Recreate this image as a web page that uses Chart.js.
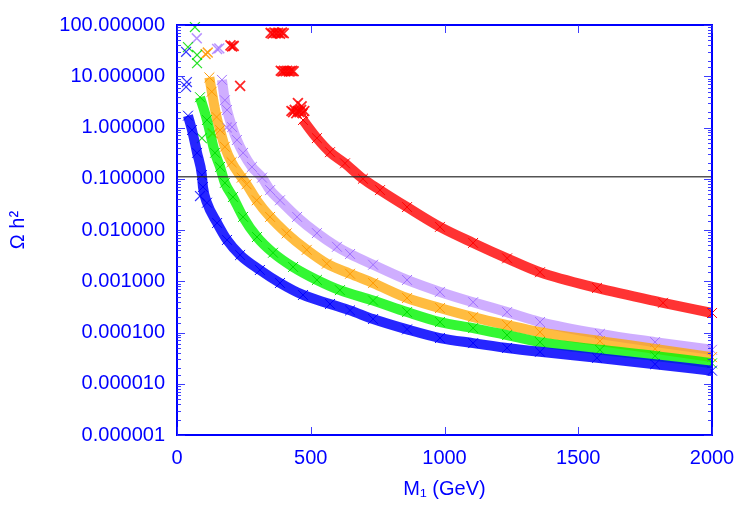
<!DOCTYPE html>
<html>
<head>
<meta charset="utf-8">
<script src="https://cdn.jsdelivr.net/npm/chart.js@4.4.1/dist/chart.umd.min.js"></script>
<style>
  html, body { margin: 0; padding: 0; background: #ffffff; }
  #wrap { width: 750px; height: 525px; }
</style>
</head>
<body>
<div id="wrap"><canvas id="relicChart" width="750" height="525"></canvas></div>
<script>
// M1 (GeV) and Omega h^2, one band per colour
const blueX = [41, 56, 75, 93, 97, 112, 150, 187, 236, 310, 385, 471, 572, 647, 733, 860, 983, 1107, 1234, 1357, 1570, 1787, 2000];
const blueY = [1.7, 0.89, 0.32, 0.118, 0.069, 0.034, 0.0137, 0.0064, 0.00325, 0.00166, 0.000925, 0.00054, 0.00036, 0.00027, 0.000183, 0.000115, 7.8e-5, 6.2e-5, 5.0e-5, 4.2e-5, 3.2e-5, 2.4e-5, 1.8e-5];

const greenX = [86, 112, 142, 161, 179, 209, 247, 299, 359, 434, 523, 609, 733, 860, 983, 1107, 1234, 1357, 1581, 1787, 2000];
const greenY = [3.9, 1.4, 0.32, 0.17, 0.083, 0.044, 0.018, 0.0073, 0.0036, 0.0019, 0.00106, 0.00067, 0.00042, 0.00025, 0.00016, 0.000122, 8.9e-5, 6.5e-5, 4.6e-5, 3.5e-5, 2.5e-5];

const orangeX = [121, 130, 148, 161, 179, 204, 242, 260, 298, 348, 410, 485, 560, 647, 733, 860, 983, 1107, 1234, 1357, 1581, 1787, 2000];
const orangeY = [9.5, 5.0, 1.6, 0.89, 0.42, 0.21, 0.105, 0.078, 0.038, 0.018, 0.0086, 0.0041, 0.0022, 0.0014, 0.00092, 0.00047, 0.0003, 0.0002, 0.00014, 0.000102, 6.8e-5, 4.8e-5, 3.3e-5];

const purpleX = [168, 179, 187, 206, 224, 247, 280, 318, 348, 385, 449, 523, 598, 647, 733, 860, 983, 1107, 1234, 1357, 1581, 1787, 2000];
const purpleY = [8.5, 3.4, 2.2, 1.02, 0.57, 0.32, 0.17, 0.105, 0.060, 0.038, 0.018, 0.0087, 0.0047, 0.0034, 0.0021, 0.00106, 0.00062, 0.00039, 0.00025, 0.00016, 9.4e-5, 6.5e-5, 4.6e-5];

const redX = [471, 523, 572, 628, 695, 759, 860, 983, 1107, 1234, 1357, 1570, 1817, 2000];
const redY = [1.4, 0.62, 0.33, 0.20, 0.10, 0.060, 0.028, 0.0115, 0.0056, 0.0028, 0.0015, 0.00074, 0.00038, 0.00024];

// scattered points away from the bands
const blueStrayX = [34, 37, 34, 86];
const blueStrayY = [30, 7.7, 6.2, 0.046];
const greenStrayX = [67, 41, 75, 75, 93];
const greenStrayY = [91, 37, 26, 18, 0.62];
const orangeStrayX = [107, 115, 133];
const orangeStrayY = [27, 29, 0.77];
const purpleStrayX = [74, 150, 158, 186];
const purpleStrayY = [55, 34, 35, 1.0];
const redStrayX = [350, 357, 364, 371, 378, 385, 392, 399, 388, 394, 400, 406, 412, 418, 424, 430, 436, 428, 434, 440, 446, 452, 458, 464, 470, 476, 452, 466, 200, 206, 212, 236];
const redStrayY = [70, 68, 71, 69, 70, 68, 71, 69, 12.8, 12.4, 12.7, 12.5, 12.8, 12.4, 12.6, 12.7, 12.5, 2.1, 2.0, 2.2, 1.9, 2.1, 2.0, 2.2, 1.9, 2.1, 3.0, 2.6, 40, 38, 39, 6.5];

// observed relic density line
const omegaObs = 0.11;
const xLimits = [0, 2000];

const FONT = "'Liberation Sans', Arial, sans-serif";
const AXIS_BLUE = '#0000ff';

function pts(xs, ys) {
    return xs.map((x, i) => ({ x: x, y: ys[i] }));
}

function isDecade(v) {
    const l = Math.log10(v);
    return Math.abs(l - Math.round(l)) < 1e-6;
}

function band(xs, ys, solid, soft) {
    return {
        data: pts(xs, ys),
        showLine: true,
        borderColor: soft,
        borderWidth: 10,
        cubicInterpolationMode: 'monotone',
        pointStyle: 'crossRot',
        pointRadius: 7,
        pointBorderColor: solid,
        pointBorderWidth: 1,
        clip: 8
    };
}

function stray(xs, ys, color, w) {
    return {
        data: pts(xs, ys),
        showLine: false,
        pointStyle: 'crossRot',
        pointRadius: 7,
        pointBorderColor: color,
        pointBorderWidth: w,
        clip: 10
    };
}

// box round the plot plus inward ticks on all four sides
const frameTicks = {
    id: 'frameTicks',
    afterDraw(chart) {
        const ctx = chart.ctx;
        const a = chart.chartArea;
        const x = chart.scales.x, y = chart.scales.y;
        ctx.save();
        ctx.strokeStyle = AXIS_BLUE;
        ctx.lineWidth = 2;
        ctx.strokeRect(a.left, a.top, a.right - a.left, a.bottom - a.top);
        ctx.strokeStyle = 'rgba(40,40,255,0.9)';
        ctx.lineWidth = 1;
        ctx.beginPath();
        y.ticks.forEach(t => {
            const py = Math.round(y.getPixelForValue(t.value)) + 0.5;
            const len = isDecade(t.value) ? 8 : 4;
            ctx.moveTo(a.left, py); ctx.lineTo(a.left + len, py);
            ctx.moveTo(a.right, py); ctx.lineTo(a.right - len, py);
        });
        x.ticks.forEach(t => {
            const px = Math.round(x.getPixelForValue(t.value)) + 0.5;
            ctx.moveTo(px, a.bottom); ctx.lineTo(px, a.bottom - 8);
            ctx.moveTo(px, a.top); ctx.lineTo(px, a.top + 8);
        });
        ctx.stroke();
        ctx.restore();
    }
};

const datasets = [
    {
        data: pts(xLimits, [omegaObs, omegaObs]),
        showLine: true,
        borderColor: 'rgba(40,40,40,0.8)',
        borderWidth: 1.5,
        pointRadius: 0,
        order: -1
    },
    band(blueX, blueY, '#0000ff', 'rgba(0,0,255,0.85)'),
    band(greenX, greenY, '#00dd00', 'rgba(0,245,0,0.8)'),
    band(orangeX, orangeY, '#ff9900', 'rgba(255,165,0,0.75)'),
    band(purpleX, purpleY, '#a070ff', 'rgba(175,120,255,0.6)'),
    band(redX, redY, '#ff0000', 'rgba(255,0,0,0.8)'),
    stray(blueStrayX, blueStrayY, 'rgba(0,0,255,0.8)', 1.2),
    stray(greenStrayX, greenStrayY, 'rgba(0,220,0,0.85)', 1.2),
    stray(orangeStrayX, orangeStrayY, 'rgba(255,150,0,0.85)', 1.5),
    stray(purpleStrayX, purpleStrayY, 'rgba(160,110,255,0.75)', 1.5),
    stray(redStrayX, redStrayY, 'rgba(255,0,0,0.85)', 1.8)
];

new Chart(document.getElementById('relicChart'), {
    type: 'scatter',
    data: { datasets: datasets },
    options: {
        responsive: false,
        animation: false,
        layout: { padding: { left: 0, right: 38, top: 25, bottom: 0 } },
        plugins: { legend: { display: false }, tooltip: { enabled: false } },
        scales: {
            x: {
                type: 'linear',
                min: xLimits[0],
                max: xLimits[1],
                afterFit: s => { s.height = 90; },
                grid: { display: false },
                border: { display: true, color: AXIS_BLUE, width: 2 },
                ticks: {
                    stepSize: 500,
                    color: AXIS_BLUE,
                    padding: 3,
                    font: { family: FONT, size: 20 },
                    callback: v => String(v)
                },
                title: {
                    display: true,
                    text: 'M\u2081 (GeV)',
                    color: AXIS_BLUE,
                    font: { family: FONT, size: 20 },
                    padding: { top: 0, bottom: 24 }
                }
            },
            y: {
                type: 'logarithmic',
                min: 1e-6,
                max: 100,
                afterFit: s => { s.width = 177; },
                grid: { display: false },
                border: { display: true, color: AXIS_BLUE, width: 2 },
                ticks: {
                    autoSkip: false,
                    color: AXIS_BLUE,
                    padding: 4,
                    font: { family: FONT, size: 20 },
                    callback: v => isDecade(v) ? Number(v).toFixed(6) : ''
                },
                title: {
                    display: true,
                    text: '\u03A9 h\u00B2',
                    color: AXIS_BLUE,
                    font: { family: FONT, size: 20 },
                    padding: { top: 6, bottom: 0 }
                }
            }
        }
    },
    plugins: [frameTicks]
});
</script>
</body>
</html>
